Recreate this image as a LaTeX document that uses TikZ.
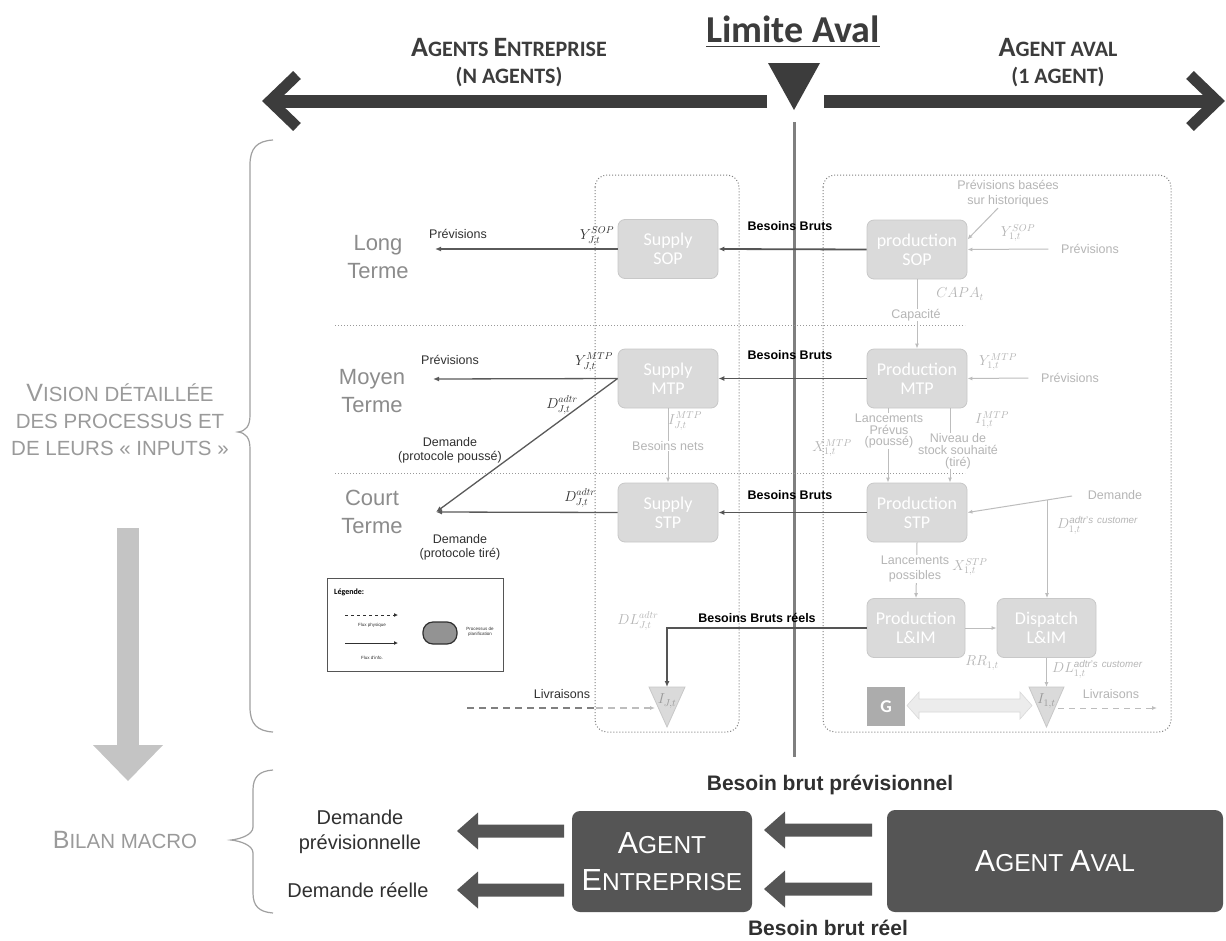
\documentclass[tikz,border=0pt]{standalone}
\usepackage{fontspec}
\usepackage{amsmath}
\setmainfont{Liberation Sans}
\newfontfamily\carl{Carlito}
\usetikzlibrary{arrows.meta,calc}
\definecolor{dk}{HTML}{3C3C3C}
\definecolor{boxdark}{HTML}{555555}
\definecolor{boxf}{HTML}{DADADA}
\definecolor{boxd}{HTML}{C8C8C8}
\definecolor{bbc}{HTML}{555555}
\definecolor{infc}{HTML}{5A5A5A}
\definecolor{ltc}{HTML}{BDBDBD}
\definecolor{ltt}{HTML}{B5B5B5}
\definecolor{midt}{HTML}{9A9A9A}
\definecolor{termc}{HTML}{8C8C8C}
\definecolor{dkt}{HTML}{303030}
\definecolor{vline}{HTML}{7F7F7F}
\definecolor{bigarr}{HTML}{C4C4C4}
\definecolor{bracec}{HTML}{A0A0A0}
\newcommand\Bg[2]{{\fontsize{#1}{#1}\selectfont #2}}
\newcommand\fatL[2]{\fill[boxdark] (#1) -- ($(#1)+(21,-18.5)$) -- ($(#1)+(21,-6.5)$) -- ($(#2)+(0,-6.5)$) -- ($(#2)+(0,6.5)$) -- ($(#1)+(21,6.5)$) -- ($(#1)+(21,18.5)$) -- cycle;}
\tikzset{
 proc/.style={draw=boxd, line width=0.8pt, fill=boxf, rounded corners=7pt, minimum width=100pt, minimum height=59pt, text=white, font=\carl\fontsize{18}{19}\selectfont, align=center, inner sep=0pt},
 agent/.style={fill=boxdark, rounded corners=8pt, text=white, font=\fontsize{24.5}{37}\selectfont, align=center, inner sep=0pt},
 bb/.style={draw=bbc, line width=1.8pt, -{Latex[length=6pt,width=5pt]}},
 inf/.style={draw=infc, line width=1.3pt, -{Latex[length=6pt,width=5pt]}},
 lt/.style={draw=ltc, line width=1pt, -{Latex[length=5pt,width=4pt]}},
 lbl/.style={font=\fontsize{12.5}{14}\selectfont, text=dkt, align=center, inner sep=0.5pt},
 lbb/.style={font=\bfseries\fontsize{12.5}{14}\selectfont, text=black, inner sep=0.5pt},
 llt/.style={font=\fontsize{12.5}{15}\selectfont, text=ltt, align=center, inner sep=0.5pt},
 mth/.style={font=\fontsize{14}{14}\selectfont, text=dkt, inner sep=0pt},
 mthl/.style={font=\fontsize{14}{14}\selectfont, text=ltt, inner sep=0pt},
 term/.style={font=\fontsize{22}{28}\selectfont, text=termc, align=center},
 cont/.style={draw=gray, dotted, line width=1pt, rounded corners=12pt},
 sep/.style={draw=gray!80, dotted, line width=1pt},
 tri/.style={fill=boxf, draw=boxd, line width=0.8pt}
}
\begin{document}
\begin{tikzpicture}[x=1pt,y=-1pt]
\fill[white] (0,0) rectangle (1226,940);
\useasboundingbox (0,0) rectangle (1226,940);

% ---------- top ----------
\node[font=\carl\bfseries\fontsize{38}{40}\selectfont, text=dk, inner sep=0] (lim) at (793,32) {\underline{Limite Aval}};
\node[font=\carl\bfseries\fontsize{22}{27}\selectfont, text=dk, align=center] (hent) at (509,63) {\Bg{28}{A}GENTS \Bg{28}{E}NTREPRISE\\(N AGENTS)};
\node[font=\carl\bfseries\fontsize{22}{27}\selectfont, text=dk, align=center] (hava) at (1058,63) {\Bg{28}{A}GENT AVAL\\(1 AGENT)};
\coordinate (lS) at (767,101); \coordinate (lE) at (275,101); \coordinate (lT) at (270,101);
\coordinate (rS) at (824,101); \coordinate (rE) at (1212,101); \coordinate (rT) at (1217,101);
\draw[dk, line width=13pt] (lS) -- (lE);
\draw[dk, line width=11pt, line join=miter] ($(lT)+(27,-26)$) -- (lT) -- ($(lT)+(27,26)$);
\draw[dk, line width=13pt] (rS) -- (rE);
\draw[dk, line width=11pt, line join=miter] ($(rT)+(-27,-26)$) -- (rT) -- ($(rT)+(-27,26)$);
\fill[dk] (768,63) -- (820,63) -- (794,110) -- cycle;
\coordinate (vT) at (794,122); \coordinate (vB) at (794,757);
\draw[vline, line width=3pt] (vT) -- (vB);

% ---------- left annotations ----------
\node[font=\fontsize{20.5}{27}\selectfont, text=midt, align=center] (vis) at (120,420) {\Bg{25}{V}ISION DÉTAILLÉE\\DES PROCESSUS ET\\DE LEURS « INPUTS »};
\draw[bracec, line width=1.2pt] (273,140) .. controls (257,141) and (250,148) .. (250,165) -- (250,415) .. controls (250,426) and (246,431) .. (238,432) .. controls (246,433) and (250,438) .. (250,449) -- (250,707) .. controls (250,724) and (257,731) .. (273,732);
\fill[bigarr] (117,528) rectangle (139,746);
\fill[bigarr] (93,745) -- (163,745) -- (128,781) -- cycle;
\node[font=\fontsize{20.5}{24}\selectfont, text=midt] (bil) at (125,840) {\Bg{25}{B}ILAN MACRO};
\draw[bracec, line width=1.2pt] (273,770) .. controls (259,771) and (253,777) .. (253,790) -- (253,827) .. controls (253,835) and (240,839) .. (231,840) .. controls (240,841) and (253,845) .. (253,853) -- (253,893) .. controls (253,906) and (259,912) .. (273,913);

% ---------- containers & separators ----------
\draw[cont] (595,175) rectangle (739,732);
\draw[cont] (823,175) rectangle (1171,732);
\draw[sep] (335,325) -- (965,325);
\draw[sep] (335,473) -- (965,473);

\node[term] (lt) at (378,257) {Long\\Terme};
\node[term] (mt) at (372,391) {Moyen\\Terme};
\node[term] (ct) at (372,512) {Court\\Terme};

% ---------- process boxes ----------
\node[proc] (ssop) at (668,249) {Supply\\SOP};
\node[proc] (psop) at (917,249.5) {production\\SOP};
\node[proc] (smtp) at (668,378.5) {Supply\\MTP};
\node[proc] (pmtp) at (917,378.5) {Production\\MTP};
\node[proc] (sstp) at (668,512.5) {Supply\\STP};
\node[proc] (pstp) at (917,512.5) {Production\\STP};
\node[proc, minimum width=98pt] (plim) at (916,628) {Production\\L\&IM};
\node[proc, minimum width=99pt] (dlim) at (1046.5,628) {Dispatch\\L\&IM};
\node[fill=gray!65, minimum width=38pt, minimum height=39pt, inner sep=0, text=white, font=\carl\bfseries\fontsize{18}{18}\selectfont] (G) at (886,706.5) {G};

% ---------- row 1 ----------
\coordinate (p1) at (435,249);
\draw[inf] (ssop.west) -- (p1);
\node[lbl] (prevL1) at (458,234) {Prévisions};
\node[mth] (ysopJ) at (597,236) {$Y^{SOP}_{J,t}$};
\draw[bb] (psop.west) -- (ssop.east);
\node[lbb] (bb1) at (790,226) {Besoins Bruts};
\node[llt] (hist) at (1008,194) {Prévisions basées\\sur historiques};
\draw[lt] ([xshift=-10pt]hist.south) -- ([yshift=10pt]psop.east);
\node[llt] (prv1) at (1090,249) {Prévisions};
\draw[lt] ([xshift=-12pt]prv1.west) -- (psop.east);
\node[mthl] (ysop1) at (1018,233) {$Y^{SOP}_{1,t}$};
\draw[lt] (psop.south) -- (pmtp.north);
\node[mthl] (capa) at (960,294) {$CAPA_t$};
\node[llt, fill=white] (capl) at (916,315) {Capacité};

% ---------- row 2 ----------
\coordinate (p2) at (433,379);
\coordinate (p3) at (436,512);
\draw[inf] (smtp.west) -- (p2);
\node[lbl] (prevL2) at (450,360) {Prévisions};
\node[mth] (ymtpJ) at (594,362) {$Y^{MTP}_{J,t}$};
\draw[bb] (pmtp.west) -- (smtp.east);
\node[lbb] (bb2) at (790,355) {Besoins Bruts};
\draw[inf] (smtp.west) -- (p3);
\node[mth] (dadtr1) at (562,405) {$D^{adtr}_{J,t}$};
\node[lbl] (dpush) at (450,450) {Demande\\(protocole poussé)};
\node[llt] (prv2) at (1070,378) {Prévisions};
\draw[lt] ([xshift=-12pt]prv2.west) -- (pmtp.east);
\node[mthl] (ymtp1) at (998,362) {$Y^{MTP}_{1,t}$};
\draw[lt] (smtp.south) -- (sstp.north);
\node[mthl] (imtpJ) at (685,421) {$I^{MTP}_{J,t}$};
\node[llt, fill=white] (bnets) at (668,446) {Besoins nets};
\coordinate (xa) at (888,0); \coordinate (xb) at (950,0);
\draw[lt] (pmtp.south -| xa) -- (pstp.north -| xa);
\draw[lt] (pmtp.south -| xb) -- (pstp.north -| xb);
\node[llt, fill=white, font=\fontsize{12.5}{11.5}\selectfont] (lprev) at (889,431) {Lancements\\Prévus\\(poussé)};
\node[llt, fill=white, font=\fontsize{12.5}{12}\selectfont] (niv) at (958,451) {Niveau de\\stock souhaité\\(tiré)};
\node[mthl] (imtp1) at (992,420) {$I^{MTP}_{1,t}$};
\node[mthl] (xmtp1) at (832,448) {$X^{MTP}_{1,t}$};

% ---------- row 3 ----------
\draw[inf] (sstp.west) -- (p3);
\node[mth] (dadtr2) at (580,498) {$D^{adtr}_{J,t}$};
\node[lbl] (dpull) at (460,547) {Demande\\(protocole tiré)};
\draw[bb] (pstp.west) -- (sstp.east);
\node[lbb] (bb3) at (790,495) {Besoins Bruts};
\node[llt] (dem) at (1115,495) {Demande};
\coordinate (demS) at (1072,496);
\draw[lt] (demS) -- (pstp.east);
\coordinate (br) at (1047,500);
\draw[lt] (br) -- (dlim.north -| br);
\node[mthl, anchor=west] (dcust) at (1057,525) {$D^{\mathit{adtr}\text{\textquoteright}\mathit{s\ customer}}_{1,t}$};
\draw[lt] (pstp.south) -- (plim.north);
\node[llt, fill=white] (lposs) at (915,569) {Lancements\\possibles};
\node[mthl] (xstp) at (970,567) {$X^{STP}_{1,t}$};

% ---------- row 4 ----------
\draw[lt] (plim.east) -- (dlim.west);
\node[mthl] (rr) at (982,663) {$RR_{1,t}$};
\coordinate (t1top) at (1046.5,687);
\coordinate (tJtop) at (667,687);
\draw[tri] (1029,687) -- (1064,687) -- (1046.5,727) -- cycle;
\draw[tri] (649,687) -- (685,687) -- (667,727) -- cycle;
\node[mthl, text=gray!80] (i1) at (1046.5,701) {$I_{1,t}$};
\node[mthl, text=gray!80] (iJ) at (667,701) {$I_{J,t}$};
\draw[lt] (dlim.south) -- (t1top);
\node[mthl, anchor=west] (dlcust) at (1052,669) {$DL^{\mathit{adtr}\text{\textquoteright}\mathit{s\ customer}}_{1,t}$};
\draw[bb] (plim.west) -- (plim.west -| tJtop) -- (tJtop);
\node[lbb] (bbr) at (757,618) {Besoins Bruts réels};
\node[mthl] (dlJ) at (638,621) {$DL^{adtr}_{J,t}$};
\draw[fill=gray!15, draw=gray!30, line width=0.6pt] (907,705.5) -- (919,692) -- (919,699) -- (1020,699) -- (1020,692) -- (1032,705.5) -- (1020,719) -- (1020,712) -- (919,712) -- (919,719) -- cycle;
\coordinate (t1r) at (1058,708); \coordinate (liv1e) at (1157,708);
\draw[lt, dashed, dash pattern=on 6pt off 5pt] (t1r) -- (liv1e);
\node[llt] (liv1) at (1111,694) {Livraisons};
\coordinate (livA) at (467,708); \coordinate (livB) at (596,708); \coordinate (tJl) at (655,708);
\draw[gray, line width=2pt, dash pattern=on 7pt off 5pt] (livA) -- (livB);
\draw[lt, line width=1.5pt, dash pattern=on 7pt off 5pt] (livB) -- (tJl);
\node[lbl] (liv2) at (562,694) {Livraisons};

% ---------- legend ----------
\node[draw=boxdark, line width=1pt, minimum width=176pt, minimum height=93pt, inner sep=0] (leg) at (415,624.5) {};
\node[font=\carl\bfseries\fontsize{8}{9}\selectfont, anchor=west, inner sep=0] (legT) at (334,592) {Légende:};
\coordinate (la1) at (345,615); \coordinate (la2) at (398,615);
\coordinate (lb1) at (345,643); \coordinate (lb2) at (398,643);
\draw[dkt, line width=1pt, dashed, -{Latex[length=4pt,width=4pt]}] (la1) -- (la2);
\draw[dkt, line width=1pt, -{Latex[length=4pt,width=4pt]}] (lb1) -- (lb2);
\node[font=\fontsize{4.5}{5}\selectfont, text=dkt] (lgp) at (372,625) {Flux physique};
\node[font=\fontsize{4.5}{5}\selectfont, text=dkt] (lgi) at (372,658) {Flux d'info.};
\node[draw=dkt, fill=gray!85!white, line width=1.2pt, rounded corners=10pt, minimum width=34pt, minimum height=22pt, inner sep=0] (lgo) at (440,633) {};
\node[font=\fontsize{4.5}{5.5}\selectfont, text=dkt, align=center] (lgpl) at (480,632) {Processus de\\planification};

% ---------- bottom ----------
\node[agent, minimum width=180pt, minimum height=101pt] (aent) at (662,861.5) {\Bg{30.5}{A}GENT\\\Bg{30.5}{E}NTREPRISE};
\node[agent, minimum width=336pt, minimum height=102pt] (aav) at (1055,861) {\Bg{30.5}{A}GENT \Bg{30.5}{A}VAL};
\node[font=\fontsize{20}{25}\selectfont, text=dkt, align=center] (dprev) at (360,832) {Demande\\prévisionnelle};
\node[font=\fontsize{20}{25}\selectfont, text=dkt] (dreel) at (358,890) {Demande réelle};
\node[font=\bfseries\fontsize{21}{25}\selectfont, text=dkt] (bbp) at (830,785) {Besoin brut prévisionnel};
\node[font=\bfseries\fontsize{21}{25}\selectfont, text=dkt] (bbre) at (828,928) {Besoin brut réel};
\coordinate (f1t) at (457,831); \coordinate (f1s) at (564,831);
\coordinate (f2t) at (457,890); \coordinate (f2s) at (564,890);
\coordinate (f3t) at (764,830); \coordinate (f3s) at (872,830);
\coordinate (f4t) at (764,889); \coordinate (f4s) at (872,889);
\fatL{f1t}{f1s}
\fatL{f2t}{f2s}
\fatL{f3t}{f3s}
\fatL{f4t}{f4s}
\end{tikzpicture}
\end{document}
